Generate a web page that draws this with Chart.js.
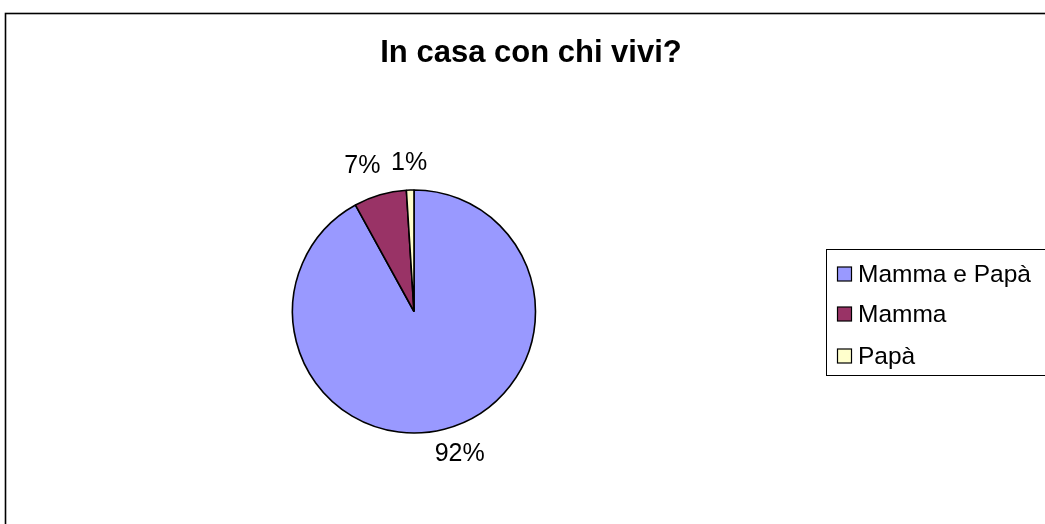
<!DOCTYPE html>
<html lang="it">
<head>
<meta charset="utf-8">
<title>In casa con chi vivi?</title>
<script src="https://cdn.jsdelivr.net/npm/chart.js@4/dist/chart.umd.min.js"></script>
<style>
  html, body { margin: 0; padding: 0; background: #ffffff; }
  #wrap { width: 1045px; height: 524px; position: relative; }
</style>
</head>
<body>
<div id="wrap"><canvas id="chart" width="1045" height="524"></canvas></div>
<script>
// Chart content
const chartTitle = 'In casa con chi vivi?';
const categories = ['Mamma e Papà', 'Mamma', 'Papà'];
const percentages = [92, 7, 1];
const sliceColors = ['#9999FF', '#993366', '#FFFFCC'];

const FONT = '"Liberation Sans", Arial, Helvetica, sans-serif';

// Small per-label offsets so the percentages sit where the spreadsheet put them
const labelShift = [[5, -1], [-8, -3], [0, 0]];

// Outer frame of the chart object
const framePlugin = {
  id: 'frame',
  beforeDraw(chart) {
    const ctx = chart.ctx;
    ctx.save();
    ctx.fillStyle = '#ffffff';
    ctx.fillRect(0, 0, chart.width, chart.height);
    ctx.strokeStyle = '#000000';
    ctx.lineWidth = 1.6;
    ctx.strokeRect(5.5, 13.5, chart.width + 10, chart.height + 10);
    ctx.restore();
  }
};

// Bold centred title
const titlePlugin = {
  id: 'chartTitle',
  afterDraw(chart) {
    const ctx = chart.ctx;
    ctx.save();
    ctx.font = 'bold 31px ' + FONT;
    ctx.fillStyle = '#000000';
    ctx.textAlign = 'center';
    ctx.textBaseline = 'middle';
    ctx.fillText(chartTitle, 531, 53);
    ctx.restore();
  }
};

// Percentage labels placed just outside each slice
const pctLabelPlugin = {
  id: 'pctLabels',
  afterDatasetsDraw(chart) {
    const ctx = chart.ctx;
    const meta = chart.getDatasetMeta(0);
    const values = chart.data.datasets[0].data;
    ctx.save();
    ctx.font = '25px ' + FONT;
    ctx.fillStyle = '#000000';
    ctx.textAlign = 'center';
    ctx.textBaseline = 'middle';
    meta.data.forEach((arc, i) => {
      const p = arc.getProps(['x', 'y', 'startAngle', 'endAngle', 'outerRadius'], true);
      const mid = (p.startAngle + p.endAngle) / 2;
      const text = values[i] + '%';
      const w = ctx.measureText(text).width;
      const h = 20;
      const gap = 17;
      const cx = p.x + Math.cos(mid) * (p.outerRadius + gap) + Math.cos(mid) * w / 2 + labelShift[i][0];
      const cy = p.y + Math.sin(mid) * (p.outerRadius + gap) + Math.sin(mid) * h / 2 + labelShift[i][1];
      ctx.fillText(text, cx, cy);
    });
    ctx.restore();
  }
};

// Boxed legend on the right
const legendPlugin = {
  id: 'boxLegend',
  afterDraw(chart) {
    const ctx = chart.ctx;
    const ds = chart.data.datasets[0];
    ctx.save();
    ctx.strokeStyle = '#000000';
    ctx.lineWidth = 1;
    ctx.strokeRect(826.5, 249.5, chart.width, 126);
    ctx.font = '24.5px ' + FONT;
    ctx.textAlign = 'left';
    ctx.textBaseline = 'middle';
    const rowY = [274, 314, 356];
    chart.data.labels.forEach((label, i) => {
      const y = rowY[i];
      ctx.fillStyle = ds.backgroundColor[i];
      ctx.fillRect(837.5, y - 7, 14, 14);
      ctx.strokeStyle = '#000000';
      ctx.lineWidth = 1.2;
      ctx.strokeRect(837.5, y - 7, 14, 14);
      ctx.fillStyle = '#000000';
      ctx.fillText(label, 858, y + 1);
    });
    ctx.restore();
  }
};

new Chart(document.getElementById('chart'), {
  type: 'pie',
  data: {
    labels: categories,
    datasets: [{
      data: percentages,
      backgroundColor: sliceColors,
      borderColor: '#000000',
      borderWidth: 1.6,
      hoverOffset: 0,
      radius: 121.5
    }]
  },
  options: {
    responsive: false,
    animation: false,
    events: [],
    layout: { padding: { left: 292, right: 509, top: 190, bottom: 91 } },
    plugins: {
      legend: { display: false },
      title: { display: false },
      tooltip: { enabled: false }
    }
  },
  plugins: [framePlugin, pctLabelPlugin, titlePlugin, legendPlugin]
});
</script>
</body>
</html>
